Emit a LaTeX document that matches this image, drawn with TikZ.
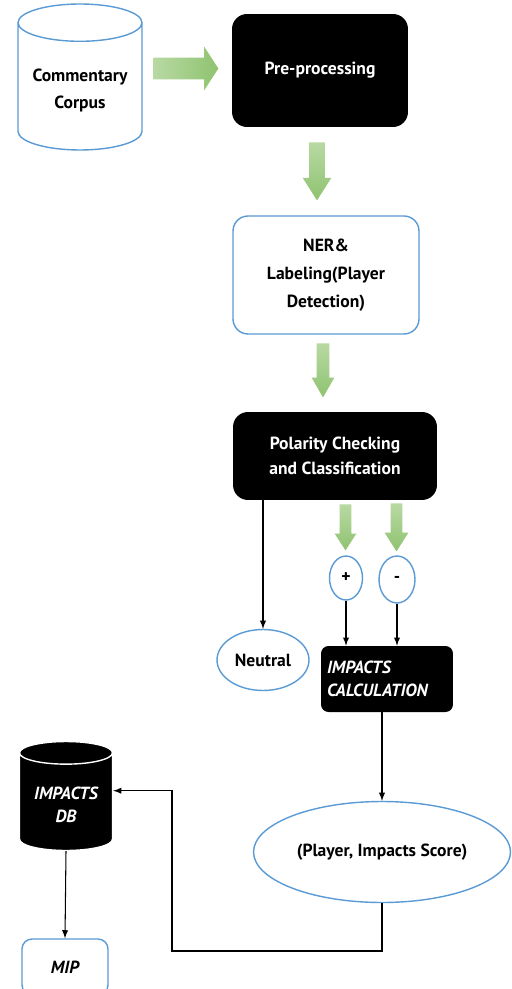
\documentclass[tikz,border=0pt]{standalone}
\usepackage{fontspec}
\setmainfont{PT Sans}
\usepackage{xcolor}
\usepackage{tikz}
\usetikzlibrary{shapes.geometric,shapes.arrows}
\definecolor{boxblue}{RGB}{91,155,213}
\definecolor{arrowlight}{RGB}{184,217,163}
\definecolor{arrowdark}{RGB}{143,195,112}
\tikzset{
    every node/.style={font=\fontsize{10}{15}\selectfont\bfseries},
    blackbox/.style={rectangle, rounded corners=0.3cm, fill=black, text=white, align=center},
    bluebox/.style={rectangle, rounded corners=0.3cm, draw=boxblue, thick, align=center},
    blueoval/.style={ellipse, draw=boxblue, thick, inner sep=0pt},
    garrow/.style={single arrow, draw=none, anchor=tail, single arrow head indent=0pt, top color=arrowlight, bottom color=arrowdark},
    gdown/.style={garrow, shape border rotate=270},
    link/.style={->, >=latex, line width=0.6pt}
}
\begin{document}
\begin{tikzpicture}[x=0.02cm, y=-0.02cm]
        \clip (0,0) rectangle (511,989);
        \fill[white] (0,0) rectangle (511,989);

        \node[cylinder, shape border rotate=90, aspect=0.35, draw=boxblue, thick, minimum width=2.48cm, minimum height=2.92cm, anchor=shape center, align=center] (corpus) at (80,77) {Commentary\\Corpus};
        \node[blackbox, minimum width=3.52cm, minimum height=2.26cm] (prep) at (320,70.5) {Pre-processing};
        \node[bluebox, minimum width=3.72cm, minimum height=2.36cm, font=\fontsize{10}{16}\selectfont\bfseries] (ner) at (326,275) {NER\&\\Labeling(Player\\Detection)};
        \node[blackbox, minimum width=4.08cm, minimum height=1.76cm, font=\fontsize{10}{14}\selectfont\bfseries] (polar) at (335,456) {Polarity Checking\\and Classification};
        \node[blueoval, minimum width=0.66cm, minimum height=0.88cm] (plus) at (346,578) {+};
        \node[blueoval, minimum width=0.72cm, minimum height=0.94cm] (minus) at (397,579.5) {-};
        \node[blueoval, minimum width=1.84cm, minimum height=1.22cm] (neutral) at (263,660) {Neutral};
        \node[blackbox, rounded corners=0.15cm, minimum width=2.64cm, minimum height=1.32cm, text width=2.4cm, align=left, font=\fontsize{10}{13}\selectfont\bfseries\itshape] (calc) at (387,679) {IMPACTS\\CALCULATION};
        \node[blueoval, minimum width=5.14cm, minimum height=2.02cm] (score) at (382,852) {(Player, Impacts Score)};
        \node[cylinder, shape border rotate=90, aspect=0.3, draw=white, thick, cylinder uses custom fill, cylinder body fill=black, cylinder end fill=black, text=white, minimum width=1.86cm, minimum height=2.18cm, anchor=shape center, align=center, font=\fontsize{10}{13}\selectfont\bfseries\itshape] (db) at (66,796) {IMPACTS\\DB};
        \node[bluebox, rounded corners=0.2cm, minimum width=1.72cm, minimum height=1.12cm, font=\fontsize{10}{13}\selectfont\bfseries\itshape] (mip) at (65,967) {MIP};

        \node[garrow, minimum height=1.3cm, inner sep=0.21cm, single arrow head extend=0.22cm, single arrow tip angle=114, left color=arrowlight, right color=arrowdark] (ga) at (153,68.5) {};
        \node[gdown, minimum height=1.16cm, inner sep=0.15cm, single arrow head extend=0.13cm, single arrow tip angle=65] (gb) at (317,142) {};
        \node[gdown, minimum height=1.08cm, inner sep=0.12cm, single arrow head extend=0.1cm, single arrow tip angle=60] (gc) at (323,343) {};
        \node[gdown, minimum height=0.92cm, inner sep=0.11cm, single arrow head extend=0.1cm, single arrow tip angle=66] (gd) at (345.5,504) {};
        \node[gdown, minimum height=0.96cm, inner sep=0.11cm, single arrow head extend=0.12cm, single arrow tip angle=65] (ge) at (396.5,503) {};

        \coordinate (back) at (172,951);

        \draw[link] (polar.south -| neutral.north) -- (neutral.north);
        \draw[link] (plus.south) -- (plus.south |- calc.north);
        \draw[link] (minus.south) -- (minus.south |- calc.north);
        \draw[link] (calc.south -| score.north) -- (score.north);
        \draw[link] (score.south) |- (back) |- ([yshift=8pt]db.east);
        \draw[link] (db.south) -- (mip.north);
    \end{tikzpicture}
\end{document}
